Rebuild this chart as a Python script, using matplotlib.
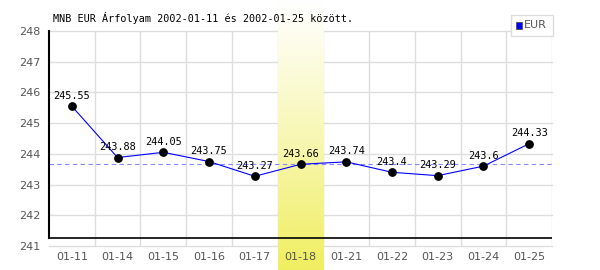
import numpy as np
import matplotlib.pyplot as plt
from matplotlib.transforms import blended_transform_factory
from matplotlib.patches import Rectangle

# données du graphique
dates = ['01-11', '01-14', '01-15', '01-16', '01-17', '01-18',
         '01-21', '01-22', '01-23', '01-24', '01-25']
eur = [245.55, 243.88, 244.05, 243.75, 243.27, 243.66,
       243.74, 243.4, 243.29, 243.6, 244.33]
ligne_ref = 243.67
jour_marque = '01-18'
titre = 'MNB EUR Árfolyam 2002-01-11 és 2002-01-25 között.'

fig = plt.figure(figsize=(6, 2.7), dpi=100)
ax = fig.add_axes([49/600, 24/270, 503/600, 215/270])
ax.set_facecolor('none')

x = np.arange(len(dates))
ax.set_xlim(-0.5, len(dates) - 0.5)
ax.set_ylim(241, 248)

# grille
for v in range(241, 249):
    ax.axhline(v, color='#dddddd', lw=1, zorder=0, clip_on=False)
for i in range(1, len(dates) + 1):
    ax.axvline(i - 0.5, color='#dddddd', lw=1, zorder=0)

# bande jaune en dégradé
k = dates.index(jour_marque)
grad = np.linspace(0, 1, 256).reshape(-1, 1) ** 1.1
couleurs = np.zeros((256, 1, 3))
haut = np.array([1.0, 1.0, 1.0])
bas = np.array([0xf0, 0xee, 0x60]) / 255
couleurs[:, 0, :] = haut + (bas - haut) * grad
tr = blended_transform_factory(ax.transData, ax.transAxes)
im = ax.imshow(couleurs, aspect='auto', origin='upper',
               extent=(k - 0.5, k + 0.5, -24/215, 246/215), zorder=1,
               interpolation='bilinear')
im.set_transform(tr)
im.set_clip_on(False)

# ligne de référence
ax.axhline(ligne_ref, color='#8888ff', lw=0.8, ls=(0, (4, 3)), zorder=2)

# axe noir
ax.axhline(241.26, color='black', lw=1.2, zorder=3)
ax.plot([-0.5, -0.5], [241.26, 248], color='black', lw=1.5, zorder=3, clip_on=False)

ax.plot(x, eur, color='blue', lw=0.8, zorder=4)
ax.scatter(x, eur, s=28, color='black', zorder=5)
for xi, v in zip(x, eur):
    ax.annotate(f'{v:g}', (xi, v), xytext=(0, 4), textcoords='offset points',
                ha='center', va='bottom', fontsize=7.4, family='DejaVu Sans Mono',
                zorder=6)

for s in ax.spines.values():
    s.set_visible(False)
ax.tick_params(length=0, colors='#555555', labelsize=8)
ax.set_xticks(x, dates)
ax.set_yticks(range(241, 249))
ax.tick_params(axis='x', pad=4)
ax.tick_params(axis='y', pad=6)

fig.text(53/600, 1 - 18/270, titre, fontsize=7.3, family='DejaVu Sans Mono',
         va='center', ha='left')

# légende
fig.patches.append(Rectangle((511/600, 1 - 36/270), 42/600, 21/270,
                             transform=fig.transFigure, facecolor='white',
                             edgecolor='#dddddd', lw=1, zorder=5))
fig.patches.append(Rectangle((516/600, 1 - 29/270), 6/600, 7/270,
                             transform=fig.transFigure, facecolor='blue',
                             edgecolor='#555555', lw=0.6, zorder=6))
fig.text(524/600, 1 - 25.5/270, 'EUR', fontsize=8, color='#555555',
         va='center', ha='left', zorder=7)

fig.savefig('out.png', dpi=100)
